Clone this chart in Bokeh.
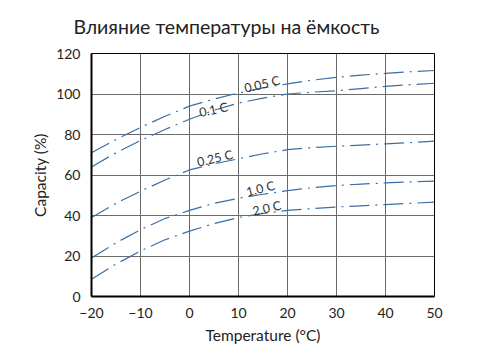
from bokeh.plotting import figure
from bokeh.models import ColumnDataSource, FixedTicker, Title
from bokeh.core.properties import value
from bokeh.embed import file_html
from bokeh.resources import INLINE

# ---- data ----
temperature = [-20, -15, -10, -5, 0, 5, 10, 15, 20, 25, 30, 35, 40, 45, 50]
cap_005C = [71, 77.5, 83.5, 89, 94, 97.5, 100.5, 103, 105, 106.8, 108.2, 109.3, 110.2, 111, 111.6]
cap_01C = [64, 71, 77, 82.5, 87.5, 92, 95.5, 98, 100, 100.9, 101.6, 102.7, 103.8, 104.6, 105.3]
cap_025C = [39, 46, 52, 57.5, 62.5, 65.5, 68, 70.5, 72.5, 73.5, 74.2, 74.8, 75.4, 76, 76.7]
cap_10C = [19, 26.5, 33, 38.5, 42.5, 46, 48.5, 50.5, 52.3, 53.7, 54.8, 55.5, 56.1, 56.6, 57]
cap_20C = [8.5, 16, 22.5, 28, 32.3, 36, 39, 41, 42.5, 43.4, 44.2, 44.8, 45.4, 46, 46.6]
series_names = ["0.05 C", "0.1 C", "0.25 C", "1.0 C", "2.0 C"]
x_ticks = [-20, -10, 0, 10, 20, 30, 40, 50]
y_ticks = [0, 20, 40, 60, 80, 100, 120]

title_text = "Влияние температуры на ёмкость"
x_label = "Temperature (°C)"
y_label = "Capacity (%)"

FONT = "Lato"
LINE_COLOR = "#3b6ea5"
TEXT_COLOR = "#222222"

p = figure(width=493, height=353, x_range=(-20, 50), y_range=(0, 120),
           output_backend="svg", toolbar_location=None,
           min_border_left=91, min_border_right=59,
           min_border_top=53, min_border_bottom=57)
p.background_fill_color = "white"
p.border_fill_color = "white"
p.outline_line_color = "black"
p.outline_line_width = 1

p.title = Title(text=title_text, text_font=FONT, text_font_size="19.5px",
                text_font_style="normal", text_color=TEXT_COLOR,
                align="left", offset=-18, standoff=28, vertical_align="top")

for ax, ticks in ((p.xaxis, x_ticks), (p.yaxis, y_ticks)):
    ax.ticker = FixedTicker(ticks=ticks)
    ax.major_tick_line_color = None
    ax.minor_tick_line_color = None
    ax.axis_line_color = "black"
    ax.axis_line_width = 2
    ax.major_label_text_font = FONT
    ax.major_label_text_font_size = "14px"
    ax.major_label_text_color = TEXT_COLOR
    ax.axis_label_text_font = FONT
    ax.axis_label_text_font_size = "15.5px"
    ax.axis_label_text_font_style = "normal"
    ax.axis_label_text_color = TEXT_COLOR

p.xaxis.axis_label = x_label
p.yaxis.axis_label = y_label
p.xaxis.major_label_standoff = 5
p.yaxis.major_label_standoff = 5
p.xaxis.axis_label_standoff = 5
p.yaxis.axis_label_standoff = 4

p.xgrid.ticker = FixedTicker(ticks=x_ticks)
p.ygrid.ticker = FixedTicker(ticks=y_ticks)
p.grid.grid_line_color = "#6a6a6a"
p.grid.grid_line_width = 1

for series in (cap_005C, cap_01C, cap_025C, cap_10C, cap_20C):
    p.line(temperature, series, line_color=LINE_COLOR, line_width=1.2,
           line_dash="20 6 2 6")

# curve labels (placed along the curves)
lab_src = ColumnDataSource(dict(
    x=[11.2, 2.0, 1.6, 11.6, 12.9],
    y=[102.8, 90.8, 66.2, 51.6, 42.0],
    text=series_names,
    angle=[0.23, 0.21, 0.23, 0.24, 0.22],
))
p.text(x="x", y="y", text="text", angle="angle", source=lab_src,
       text_font=value(FONT), text_font_size="12.5px", text_color="#333333",
       text_baseline="alphabetic", text_align="left")

open("out.html", "w").write(file_html(p, INLINE))
